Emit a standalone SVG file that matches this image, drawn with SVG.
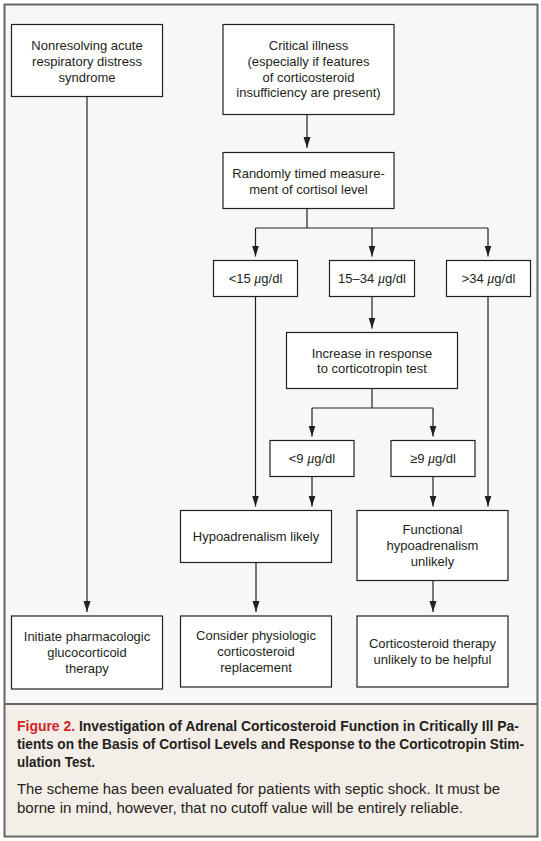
<svg xmlns="http://www.w3.org/2000/svg" width="541" height="841" viewBox="0 0 541 841">
<style>
.box{fill:#ffffff;stroke:#231f20;stroke-width:1.2}
.t{font-family:"Liberation Sans",Arial,sans-serif;font-size:13px;fill:#231f20;text-anchor:middle}
.mu{font-family:"Liberation Serif","Times New Roman",serif;font-style:italic;font-size:14px}
.ln{fill:none;stroke:#231f20;stroke-width:1.2;marker-end:url(#ah)}
.pl{fill:none;stroke:#231f20;stroke-width:1.2}
.cap{font-family:"Liberation Sans",Arial,sans-serif;font-size:14px;fill:#231f20}
.capb{font-weight:bold}
.red{fill:#d2232a}
</style>
<defs>
<marker id="ah" markerUnits="userSpaceOnUse" markerWidth="12" markerHeight="8" refX="11" refY="3.5" orient="auto">
<path d="M0,0 L11,3.5 L0,7 z" fill="#231f20"/>
</marker>
</defs>
<rect x="0" y="0" width="541" height="841" fill="#ffffff"/>
<rect x="4.5" y="4.5" width="533" height="699.5" fill="#f7f7f7"/>
<rect x="4.5" y="704" width="533" height="132.5" fill="#f3eee7"/>
<rect x="4.5" y="4.5" width="533" height="832" fill="none" stroke="#666666" stroke-width="2"/>
<line x1="4.5" y1="704" x2="537.5" y2="704" stroke="#666666" stroke-width="2"/>

<g id="connectors">
<path class="ln" d="M87,96.5 V612"/>
<path class="ln" d="M307,114.5 V148"/>
<path class="pl" d="M307,208.5 V228 M255.5,228 H488"/>
<path class="ln" d="M255.5,228 V256.5"/>
<path class="ln" d="M372,228 V256.5"/>
<path class="ln" d="M488,228 V256.5"/>
<path class="ln" d="M372,296.5 V328.5"/>
<path class="pl" d="M372,388.5 V408 M312,408 H433"/>
<path class="ln" d="M312,408 V436.5"/>
<path class="ln" d="M433,408 V436.5"/>
<path class="ln" d="M255.5,296.5 V506.5"/>
<path class="ln" d="M312,476.5 V506.5"/>
<path class="ln" d="M433,476.5 V506.5"/>
<path class="ln" d="M488,296.5 V506.5"/>
<path class="ln" d="M256,562.5 V612"/>
<path class="ln" d="M433,580.5 V612"/>
</g>

<g id="n1"><rect class="box" x="11.5" y="24.5" width="151" height="72"/>
<text class="t" x="87" y="49.5">Nonresolving acute</text>
<text class="t" x="87" y="65.5">respiratory distress</text>
<text class="t" x="87" y="81.5">syndrome</text></g>

<g id="n2"><rect class="box" x="223" y="24.5" width="171" height="90"/>
<text class="t" x="308.5" y="49.5">Critical illness</text>
<text class="t" x="308.5" y="65.5">(especially if features</text>
<text class="t" x="308.5" y="81.5">of corticosteroid</text>
<text class="t" x="308.5" y="97">insufficiency are present)</text></g>

<g id="n3"><rect class="box" x="223" y="152.5" width="171" height="56"/>
<text class="t" x="308.5" y="178">Randomly timed measure-</text>
<text class="t" x="308.5" y="194">ment of cortisol level</text></g>

<g id="n4"><rect class="box" x="213.5" y="260.5" width="84" height="36"/>
<text class="t" x="255.5" y="283">&lt;15 <tspan class="mu">μ</tspan>g/dl</text></g>

<g id="n5"><rect class="box" x="329.5" y="260.5" width="85" height="36"/>
<text class="t" x="372" y="283">15–34 <tspan class="mu">μ</tspan>g/dl</text></g>

<g id="n6"><rect class="box" x="446.5" y="260.5" width="84" height="36"/>
<text class="t" x="488.5" y="283">&gt;34 <tspan class="mu">μ</tspan>g/dl</text></g>

<g id="n7"><rect class="box" x="286.5" y="332.5" width="171" height="56"/>
<text class="t" x="372" y="357.5">Increase in response</text>
<text class="t" x="372" y="373">to corticotropin test</text></g>

<g id="n8"><rect class="box" x="270" y="440.5" width="84" height="36"/>
<text class="t" x="312" y="463">&lt;9 <tspan class="mu">μ</tspan>g/dl</text></g>

<g id="n9"><rect class="box" x="391" y="440.5" width="84" height="36"/>
<text class="t" x="433" y="463">≥9 <tspan class="mu">μ</tspan>g/dl</text></g>

<g id="n10"><rect class="box" x="180.5" y="510.5" width="151" height="52"/>
<text class="t" x="256" y="541">Hypoadrenalism likely</text></g>

<g id="n11"><rect class="box" x="357" y="510.5" width="151" height="70"/>
<text class="t" x="432.5" y="534">Functional</text>
<text class="t" x="432.5" y="550">hypoadrenalism</text>
<text class="t" x="432.5" y="566">unlikely</text></g>

<g id="n12"><rect class="box" x="11.5" y="616" width="151" height="73"/>
<text class="t" x="87" y="641">Initiate pharmacologic</text>
<text class="t" x="87" y="657">glucocorticoid</text>
<text class="t" x="87" y="673">therapy</text></g>

<g id="n13"><rect class="box" x="180.5" y="616" width="151" height="71"/>
<text class="t" x="256" y="640">Consider physiologic</text>
<text class="t" x="256" y="656">corticosteroid</text>
<text class="t" x="256" y="672">replacement</text></g>

<g id="n14"><rect class="box" x="357" y="616" width="151" height="71"/>
<text class="t" x="432.5" y="648">Corticosteroid therapy</text>
<text class="t" x="432.5" y="664">unlikely to be helpful</text></g>

<g id="caption">
<text class="cap capb" x="17" y="731" textLength="502" lengthAdjust="spacingAndGlyphs"><tspan class="red">Figure 2.</tspan> Investigation of Adrenal Corticosteroid Function in Critically Ill Pa-</text>
<text class="cap capb" x="17" y="749" textLength="507" lengthAdjust="spacingAndGlyphs">tients on the Basis of Cortisol Levels and Response to the Corticotropin Stim-</text>
<text class="cap capb" x="17" y="767" textLength="78" lengthAdjust="spacingAndGlyphs">ulation Test.</text>
<text class="cap" x="17" y="794" textLength="483" lengthAdjust="spacingAndGlyphs">The scheme has been evaluated for patients with septic shock. It must be</text>
<text class="cap" x="17" y="813" textLength="446" lengthAdjust="spacingAndGlyphs">borne in mind, however, that no cutoff value will be entirely reliable.</text>
</g>
</svg>
